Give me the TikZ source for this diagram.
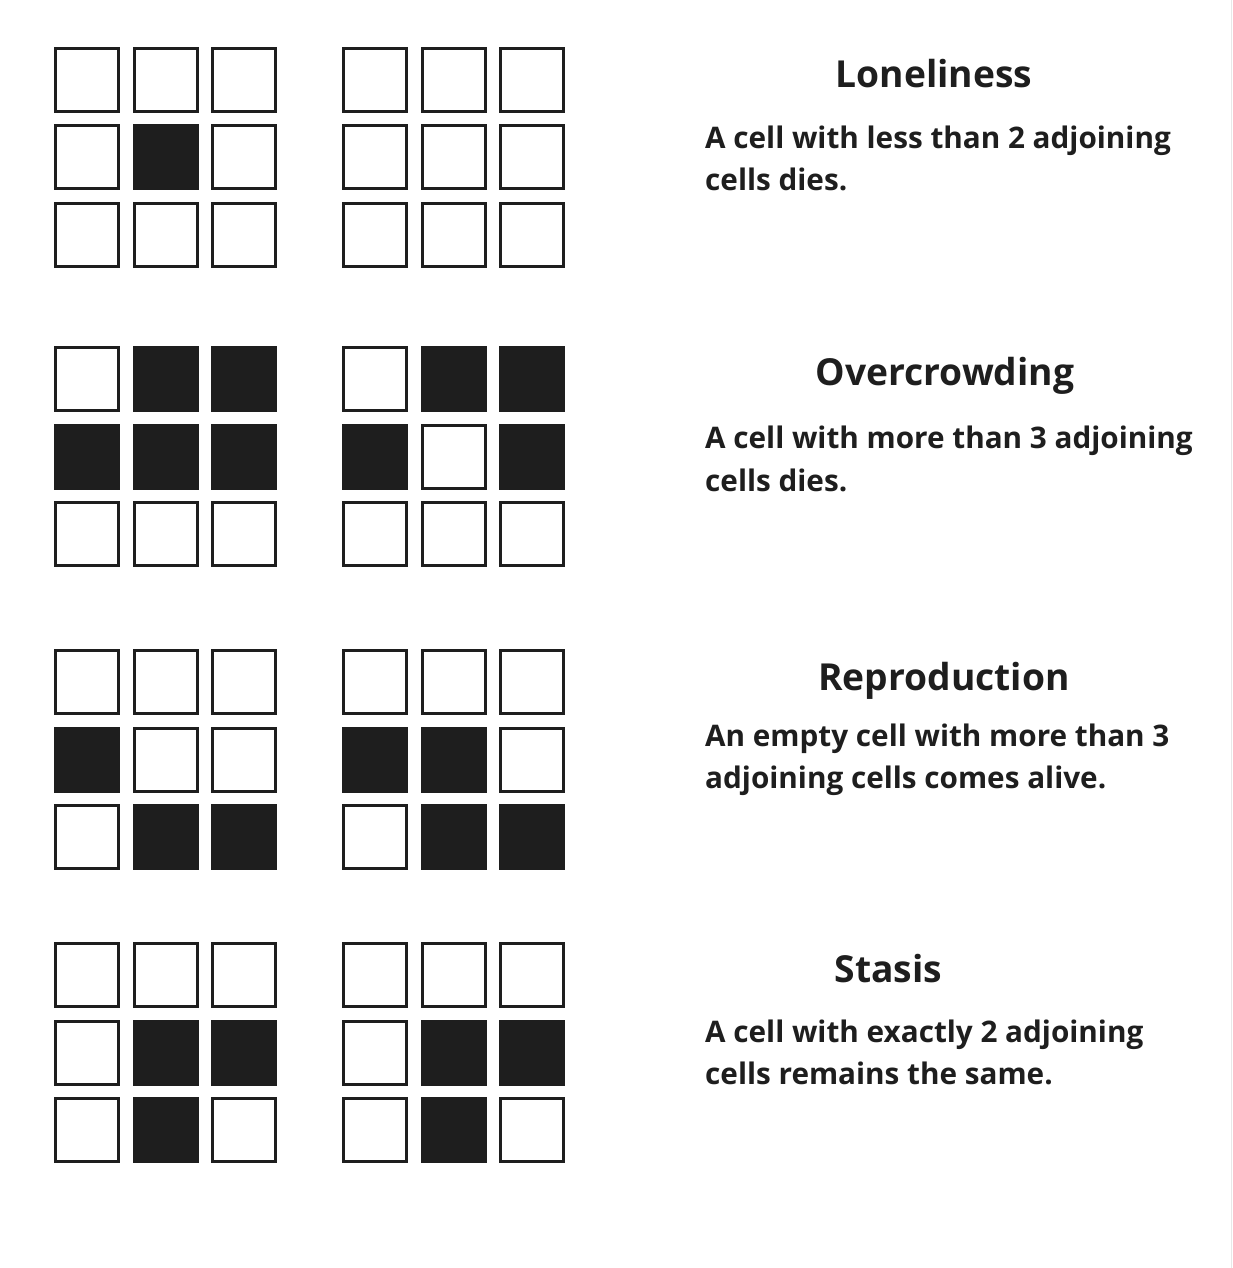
\documentclass[tikz,border=0pt]{standalone}
\usepackage{fontspec}
\setmainfont{Open Sans}
\usepackage{tikz}
\usetikzlibrary{positioning}
\definecolor{cellink}{RGB}{30,30,30}
\definecolor{edgegray}{RGB}{232,232,232}

\begin{document}
\begin{tikzpicture}[
    x=1pt, y=-1pt,
    cell/.style={rectangle, draw=cellink, line width=3pt, minimum size=63pt, inner sep=0pt, fill=white},
    title/.style={anchor=base, inner sep=0pt, font=\fontsize{37.2}{46}\selectfont\bfseries, text=cellink},
    rule/.style={anchor=base west, inner sep=0pt, align=left, font=\fontsize{29.7}{42.5}\selectfont\bfseries, text=cellink}
]
    \useasboundingbox (0,0) rectangle (1232,1268);
    \draw[edgegray, line width=1pt] (1231,0) -- (1231,1268);

    % empty grids
    \foreach \s/\gy in {1/47, 2/346, 3/649, 4/942}
      \foreach \g/\gx in {a/54, b/342}
        \foreach \r in {0,1,2}
          \foreach \c in {0,1,2}
            \node[cell] (\s\g\r\c) at ({\gx+33+\c*78.7}, {\gy+33+\r*77.5}) {};

    % live cells
    \foreach \n in {1a11, 2a01, 2a02, 2a10, 2a11, 2a12, 2b01, 2b02, 2b10, 2b12,
                    3a10, 3a21, 3a22, 3b10, 3b11, 3b21, 3b22,
                    4a11, 4a12, 4a21, 4b11, 4b12, 4b21}
        \fill[cellink] (\n.south west) rectangle (\n.north east);

    % labels (base = last line)
    \node[title] (lonely) at (934, 88) {Loneliness};
    \node[rule] (lonelytext) at (705, 191) {A cell with less than 2 adjoining\\cells dies.};

    \node[title] (crowd) at (945, 385) {Overcrowding};
    \node[rule] (crowdtext) at (705, 491) {A cell with more than 3 adjoining\\cells dies.};

    \node[title] (repro) at (944, 690) {Reproduction};
    \node[rule] (reprotext) at (705, 788.5) {An empty cell with more than 3\\adjoining cells comes alive.};

    \node[title] (stasis) at (888.5, 982) {Stasis};
    \node[rule] (stasistext) at (705, 1084.5) {A cell with exactly 2 adjoining\\cells remains the same.};
\end{tikzpicture}
\end{document}
